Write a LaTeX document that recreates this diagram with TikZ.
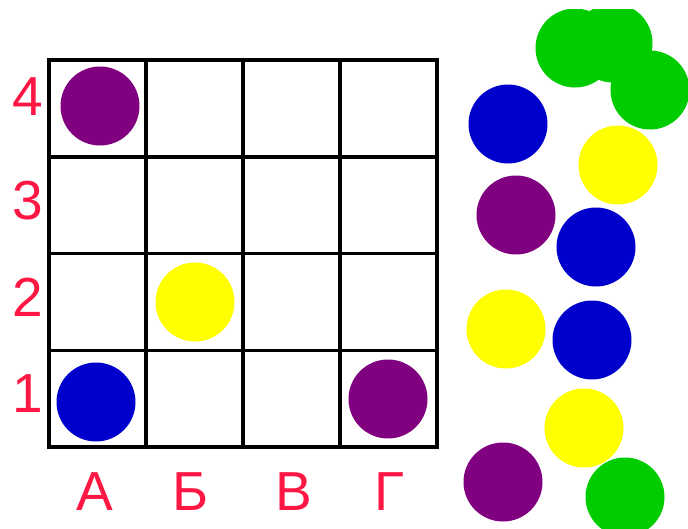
\documentclass[tikz,border=0pt]{standalone}
\usepackage{fontspec}
\setmainfont{Liberation Sans}
\usepackage{xcolor}
\usetikzlibrary{positioning}

\definecolor{labelred}{RGB}{255,23,68}
\definecolor{chippurple}{RGB}{128,0,128}
\definecolor{chipblue}{RGB}{0,0,204}
\definecolor{chipyellow}{RGB}{255,255,0}
\definecolor{chipgreen}{RGB}{0,204,0}

\begin{document}
\begin{tikzpicture}[
    x=1pt, y=-1pt,
    chip/.style={circle, minimum size=79pt, inner sep=0pt, draw=none},
    gridline/.style={line width=3.5pt, draw=black, line cap=rect},
    lbl/.style={text=labelred, font=\fontsize{55}{60}\selectfont, inner sep=0pt},
]
\fill[white] (0,0) rectangle (688,528);
\useasboundingbox (0,0) rectangle (688,528);

% board
\foreach \i in {0,...,4} {
  \draw[gridline] (49+97*\i,60) -- (49+97*\i,447);
  \draw[gridline] (49,60+96.75*\i) -- (437,60+96.75*\i);
}

% row and column labels
\node[lbl] (r4) at (28,97) {4};
\node[lbl] (r3) at (28,201) {3};
\node[lbl] (r2) at (28,297) {2};
\node[lbl] (r1) at (28,394) {1};
\node[lbl] (cA) at (95,492) {А};
\node[lbl] (cB) at (191,492) {Б};
\node[lbl] (cV) at (294,492) {В};
\node[lbl] (cG) at (389,492) {Г};

% chips on the board
\node[chip, fill=chippurple] (a4) at (100,106) {};
\node[chip, fill=chipyellow] (b2) at (195,302) {};
\node[chip, fill=chipblue] (a1) at (96,402) {};
\node[chip, fill=chippurple] (g1) at (388,399) {};

% loose chips
\begin{scope}
\clip (0,9) rectangle (688,528);
\node[chip, fill=chipgreen] (green1) at (575,48) {};
\node[chip, fill=chipgreen] (green2) at (613,43) {};
\node[chip, fill=chipgreen] (green3) at (650,90) {};
\node[chip, fill=chipblue] (blue1) at (508,124) {};
\node[chip, fill=chipyellow] (yellow1) at (618,165) {};
\node[chip, fill=chippurple] (purple1) at (516,215) {};
\node[chip, fill=chipblue] (blue2) at (596,247) {};
\node[chip, fill=chipyellow] (yellow2) at (506,329) {};
\node[chip, fill=chipblue] (blue3) at (592,340) {};
\node[chip, fill=chipyellow] (yellow3) at (584,428) {};
\node[chip, fill=chippurple] (purple2) at (503,482) {};
\node[chip, fill=chipgreen] (green4) at (625,497) {};
\end{scope}
\end{tikzpicture}
\end{document}
